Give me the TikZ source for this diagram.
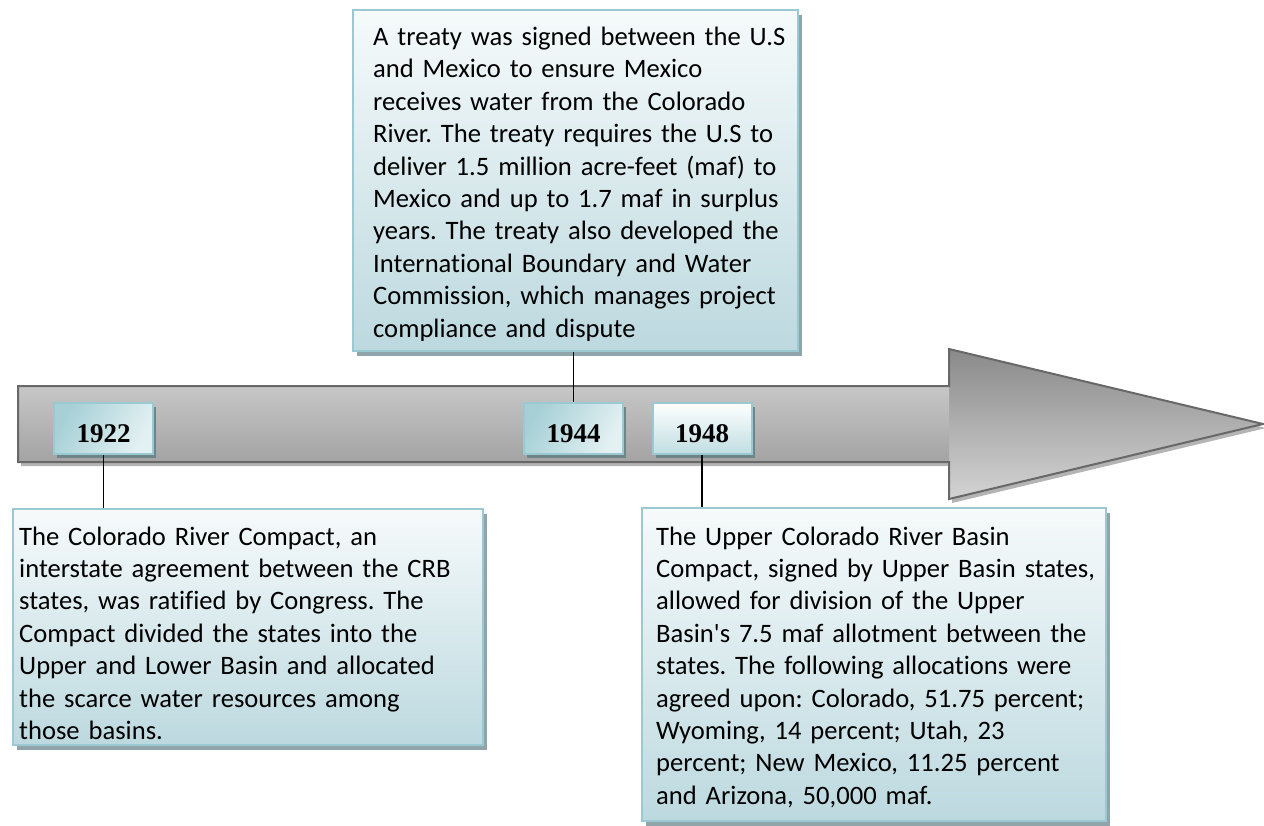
\documentclass[tikz,border=0pt]{standalone}
\usepackage{fontspec}
\setmainfont{Carlito}[Ligatures=NoCommon]
\newfontfamily\yearfont{Liberation Serif}
\usetikzlibrary{shadows}
\definecolor{boxborder}{RGB}{155,201,210}
\definecolor{boxtop}{RGB}{246,250,251}
\definecolor{boxbot}{RGB}{188,217,223}
\definecolor{boxshadow}{RGB}{143,165,169}
\definecolor{yrshadow}{RGB}{110,134,137}
\definecolor{yrdark}{RGB}{166,208,214}
\definecolor{yrlight}{RGB}{228,241,243}
\definecolor{arrowline}{RGB}{104,104,104}
\definecolor{arrowshadow}{RGB}{180,180,180}
\newcommand{\straightapos}{{\XeTeXglyph\XeTeXcharglyph"27\relax}}
\begin{document}
\frenchspacing
\begin{tikzpicture}[x=1pt,y=1pt,
  textbox/.style={draw=boxborder, line width=2pt, top color=boxtop, bottom color=boxbot,
    anchor=north west, inner sep=0pt,
    drop shadow={shadow xshift=4pt, shadow yshift=-5pt, fill=boxshadow, opacity=1}},
  yearbox/.style={draw=boxborder, line width=2pt, left color=yrdark, right color=yrlight,
    shading angle=60, minimum width=99pt, minimum height=51pt, inner sep=0pt,
    text height=28pt, text depth=0pt,
    font=\yearfont\bfseries\fontsize{27}{27}\selectfont,
    drop shadow={shadow xshift=3pt, shadow yshift=-4pt, fill=yrshadow, opacity=1}},
  bodytext/.style={anchor=base west, inner sep=0pt, align=left,
    font=\fontsize{26.6}{32.4}\selectfont},
  conn/.style={draw=black, line width=1.5pt}
]
\useasboundingbox (0,0) rectangle (1264,-825);

% arrow
\fill[arrowshadow] (21,-390) -- (952,-390) -- (952,-353) -- (1266,-428) -- (952,-503) -- (952,-466) -- (21,-466) -- cycle;
\shade[top color=black!46, bottom color=black!17] (949,-349) -- (1263,-424) -- (949,-499) -- cycle;
\shade[top color=black!22, middle color=black!20, bottom color=black!36] (18,-386) rectangle (949,-462);
\draw[arrowline, line width=2pt, line join=miter] (18,-386) -- (949,-386) -- (949,-349) -- (1263,-424) -- (949,-499) -- (949,-462) -- (18,-462) -- cycle;

% text boxes
\node[textbox, minimum width=445pt, minimum height=341pt] (treaty) at (352,-9) {};
\node[textbox, minimum width=470pt, minimum height=236pt] (ll) at (12,-508) {};
\node[textbox, minimum width=464pt, minimum height=313pt] (lr) at (641,-507) {};

\begin{scope}
\clip (352,-9) rectangle (797,-340.5);
\node[bodytext, text width=520pt] (ttext) at (373,-45.5) {A treaty was signed between the U.S\\
and Mexico to ensure Mexico\\
receives water from the Colorado\\
River. The treaty requires the U.S to\\
deliver 1.5 million acre-feet (maf) to\\
Mexico and up to 1.7 maf in surplus\\
years. The treaty also developed the\\
International Boundary and Water\\
Commission, which manages project\\
compliance and dispute};
\end{scope}

\node[bodytext, text width=520pt] (lltext) at (19,-545) {The Colorado River Compact, an\\
interstate agreement between the CRB\\
states, was ratified by Congress. The\\
Compact divided the states into the\\
Upper and Lower Basin and allocated\\
the scarce water resources among\\
those basins.};

\node[bodytext, text width=520pt] (lrtext) at (656,-545) {The Upper Colorado River Basin\\
Compact, signed by Upper Basin states,\\
allowed for division of the Upper\\
Basin\straightapos s 7.5 maf allotment between the\\
states. The following allocations were\\
agreed upon: Colorado, 51.75 percent;\\
Wyoming, 14 percent; Utah, 23\\
percent; New Mexico, 11.25 percent\\
and Arizona, 50,000 maf.};

% year boxes
\node[yearbox] (y1922) at (103.5,-428.5) {1922};
\node[yearbox] (y1944) at (573.5,-428) {1944};
\node[yearbox, top color=white, bottom color=yrdark!70, shading angle=0] (y1948) at (702,-428) {1948};

% connectors
\draw[conn] (y1922.south) -- (y1922.south |- ll.north);
\draw[conn] (y1944.north) -- (y1944.north |- treaty.south);
\draw[conn] (y1948.south) -- (y1948.south |- lr.north);
\end{tikzpicture}
\end{document}
